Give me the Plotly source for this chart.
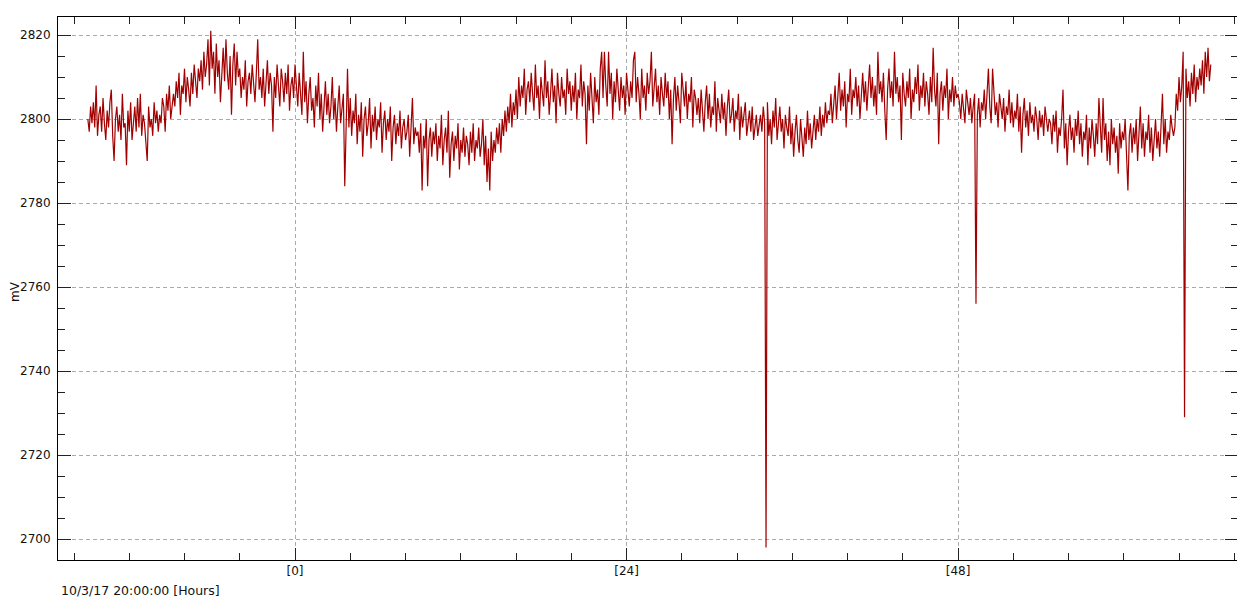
import plotly.graph_objects as go

# Time axis: hours relative to 10/3/17 20:00:00, regular sampling
t_start = -15.0
t_step = 0.1

mv = [
    # -15.0 .. -9.9
    2800, 2797, 2803, 2799, 2804, 2798, 2808, 2796, 2801, 2803,
    2797, 2805, 2799, 2795, 2802, 2798, 2804, 2807, 2796, 2790,
    2800, 2803, 2797, 2801, 2795, 2806, 2798, 2799, 2789, 2802,
    2797, 2804, 2795, 2800, 2803, 2797, 2805, 2798, 2806, 2796,
    2801, 2799, 2794, 2790, 2803, 2798, 2800, 2796, 2804, 2799,
    2802, 2797,
    # -9.8 .. -8.8
    2801, 2799, 2805, 2803, 2797, 2806, 2802, 2808, 2800, 2804, 2806,
    # -8.7 .. -7.0
    2803, 2809, 2805, 2811, 2801, 2808, 2806, 2812, 2804, 2810,
    2807, 2803, 2811, 2806, 2813, 2808, 2805, 2812,
    # -6.9 .. -4.1
    2809, 2814, 2807, 2816, 2810, 2813, 2819, 2808, 2821, 2812,
    2816, 2806, 2818, 2810, 2814, 2804, 2812, 2817, 2809, 2819,
    2811, 2807, 2815, 2801, 2813, 2818, 2808, 2816, 2810,
    # -4.0 .. 0.3
    2812, 2805, 2810, 2807, 2814, 2803, 2809, 2811, 2806, 2813,
    2808, 2804, 2811, 2819, 2807, 2810, 2805, 2812, 2803, 2809,
    2814, 2806, 2811, 2808, 2797, 2810, 2805, 2813, 2807, 2803,
    2812, 2809, 2804, 2811, 2806, 2813, 2802, 2808, 2810, 2805,
    2813, 2807, 2803, 2811,
    # 0.4 .. 3.5
    2807, 2801, 2816, 2804, 2809, 2799, 2806, 2810, 2802, 2805,
    2798, 2808, 2803, 2811, 2800, 2806, 2797, 2804, 2809, 2801,
    2806, 2799, 2803, 2810, 2800, 2805, 2797, 2803, 2808, 2799,
    2802, 2806,
    # 3.6 .. 8.8
    2784, 2803, 2812, 2798, 2805, 2796, 2802, 2799, 2806, 2794,
    2801, 2797, 2804, 2791, 2800, 2803, 2796, 2799, 2805, 2793,
    2801, 2797, 2803, 2795, 2800, 2798, 2804, 2792, 2799, 2802,
    2795, 2800, 2797, 2803, 2790, 2798, 2801, 2794, 2799, 2796,
    2802, 2793, 2798, 2800, 2795, 2797, 2801, 2791, 2799, 2805,
    2794, 2798, 2796,
    # 8.9 .. 14.6
    2797, 2792, 2799, 2783, 2796, 2793, 2800, 2784, 2795, 2798,
    2791, 2797, 2794, 2799, 2790, 2796, 2793, 2801, 2789, 2795,
    2798, 2792, 2802, 2786, 2794, 2797, 2790, 2796, 2793, 2799,
    2788, 2795, 2792, 2798, 2791, 2796, 2794, 2789, 2797, 2792,
    2799, 2790, 2795, 2793, 2798, 2791, 2794, 2800, 2789, 2796,
    2785, 2793, 2783, 2797, 2790, 2795, 2792, 2798,
    # 14.7 .. 16.1
    2794, 2799, 2792, 2800, 2796, 2802, 2797, 2803, 2799, 2806,
    2798, 2804, 2801, 2807, 2800,
    # 16.2 .. 29.1
    2810, 2803, 2808, 2805, 2812, 2801, 2807, 2809, 2804, 2811,
    2806, 2802, 2813, 2805, 2808, 2800, 2810, 2807, 2803, 2814,
    2805, 2809, 2801, 2806, 2812, 2804, 2808, 2799, 2811, 2806,
    2803, 2810, 2805, 2807, 2801, 2812, 2806, 2809, 2802, 2808,
    2804, 2811, 2800, 2807, 2805, 2813, 2803, 2809, 2806, 2794,
    2808, 2802, 2811, 2805, 2799, 2810, 2804, 2807, 2801, 2812,
    2816, 2805, 2816, 2808, 2803, 2816, 2806, 2811, 2800, 2809,
    2804, 2812, 2806, 2802, 2810, 2805, 2808, 2801, 2811, 2807,
    2803, 2809, 2805, 2814, 2816, 2804, 2810, 2806, 2800, 2812,
    2805, 2808, 2802, 2811, 2806, 2809, 2816, 2803, 2807, 2812,
    2804, 2808, 2801, 2810, 2806, 2803, 2811, 2805, 2809, 2800,
    2807, 2794, 2805, 2810, 2802, 2808, 2804, 2799, 2811, 2806,
    2803, 2809, 2800, 2806, 2804, 2810, 2798, 2807, 2805, 2801,
    # 29.2 .. 33.6
    2805, 2799, 2807, 2802, 2797, 2804, 2808, 2800, 2806, 2798,
    2803, 2801, 2809, 2797, 2805, 2802, 2799, 2806, 2800, 2804,
    2796, 2803, 2807, 2799, 2801, 2805, 2797, 2802, 2800, 2806,
    2795, 2803, 2798, 2801, 2804, 2796, 2800, 2802, 2797, 2803,
    2795, 2799, 2801, 2796, 2798,
    # 33.7 .. 38.6
    2801, 2797, 2803, 2799, 2698, 2804, 2796, 2800, 2794, 2802,
    2798, 2805, 2795, 2799, 2803, 2797, 2800, 2793, 2801, 2798,
    2796, 2803, 2794, 2799, 2791, 2797, 2801, 2795, 2792, 2800,
    2796, 2791, 2798, 2794, 2802, 2795, 2799, 2793, 2797, 2801,
    2795, 2800, 2797, 2803, 2796, 2801, 2798, 2804, 2799, 2802,
    # 38.7 .. 48.0
    2801, 2806, 2799, 2804, 2808, 2800, 2805, 2811, 2802, 2807,
    2803, 2809, 2798, 2806, 2804, 2812, 2801, 2807, 2805, 2810,
    2803, 2808, 2800, 2806, 2811, 2804, 2809, 2802, 2807, 2813,
    2805, 2810, 2803, 2808, 2801, 2816, 2806, 2809, 2804, 2811,
    2802, 2795, 2807, 2812, 2805, 2809, 2803, 2816, 2806, 2810,
    2804, 2808, 2795, 2811, 2806, 2803, 2809, 2805, 2812, 2800,
    2807, 2804, 2810, 2806, 2813, 2802, 2808, 2805, 2811, 2803,
    2809, 2806, 2801, 2810, 2804, 2817, 2807, 2803, 2811, 2794,
    2806, 2809, 2802, 2808, 2805, 2812, 2800, 2807, 2804, 2810,
    2803, 2808, 2805, 2806,
    # 48.1 .. 54.6
    2804, 2800, 2806, 2802, 2799, 2807, 2803, 2801, 2805, 2799,
    2803, 2806, 2756, 2801, 2805, 2798, 2804, 2802, 2807, 2800,
    2806, 2812, 2803, 2799, 2812, 2805, 2801, 2804, 2798, 2806,
    2802, 2800, 2805, 2797, 2803, 2801, 2807, 2799, 2804, 2798,
    2802, 2800, 2806, 2797, 2803, 2792, 2801, 2805, 2798, 2802,
    2796, 2804, 2799, 2801, 2797, 2803, 2800, 2795, 2802, 2798,
    2801, 2796, 2803, 2799, 2797, 2800,
    # 54.7 .. 63.6
    2799, 2794, 2801, 2797, 2802, 2792, 2798, 2796, 2800, 2807,
    2793, 2799, 2789, 2797, 2801, 2795, 2798, 2792, 2800, 2796,
    2802, 2794, 2799, 2791, 2797, 2795, 2801, 2789, 2798, 2793,
    2800, 2796, 2791, 2799, 2794, 2805, 2797, 2792, 2805, 2795,
    2799, 2790, 2797, 2789, 2800, 2794, 2798, 2792, 2796, 2787,
    2799, 2793, 2797, 2795, 2800, 2791, 2783, 2796, 2799, 2792,
    2798, 2794, 2800, 2790, 2796, 2803, 2793, 2799, 2791, 2797,
    2795, 2801, 2792, 2798, 2790, 2796, 2800, 2793, 2797, 2791,
    2799, 2806, 2794, 2800, 2792, 2797, 2795, 2801, 2798, 2796,
    # 63.7 .. 66.3
    2798, 2806, 2802, 2810, 2804, 2808, 2816, 2729, 2812, 2805,
    2809, 2803, 2811, 2806, 2813, 2804, 2810, 2807, 2812, 2808,
    2814, 2806, 2816, 2810, 2817, 2809, 2813,
]

hours = [round(t_start + i * t_step, 2) for i in range(len(mv))]

x_major = [0, 24, 48]
x_major_labels = ["[0]", "[24]", "[48]"]
y_major = [2700, 2720, 2740, 2760, 2780, 2800, 2820]
y_major_labels = [str(v) for v in y_major]

FONT = "DejaVu Sans"

fig = go.Figure(
    go.Scatter(
        x=hours, y=mv, mode="lines",
        line=dict(color="#a20000", width=1.2),
        hoverinfo="x+y",
    )
)

axis_common = dict(
    showline=True, linecolor="black", linewidth=1, mirror="allticks",
    ticks="inside", tickcolor="#222222", tickwidth=1,
    showgrid=True, gridcolor="#aaaaaa", gridwidth=1, griddash="4px,3px",
    zeroline=False,
    tickfont=dict(family=FONT, size=12, color="#111111"),
)

# page body has an 8px margin, so the figure is offset by 8px
fig.update_layout(
    width=1237, height=593,
    margin=dict(l=50, r=7, t=9, b=41, pad=0),
    plot_bgcolor="white", paper_bgcolor="white",
    showlegend=False,
    font=dict(family=FONT, size=12, color="#111111"),
    xaxis=dict(
        range=[-17.16, 68.27],
        tickmode="array", tickvals=x_major, ticktext=x_major_labels,
        ticklen=12,
        minor=dict(tick0=0, dtick=4, ticks="inside", ticklen=7,
                   tickcolor="#222222", tickwidth=1, showgrid=False),
        **axis_common,
    ),
    yaxis=dict(
        range=[2695.0, 2824.3],
        tickmode="array", tickvals=y_major, ticktext=y_major_labels,
        ticklen=13, ticklabelstandoff=4,
        minor=dict(tick0=2700, dtick=5, ticks="inside", ticklen=7,
                   tickcolor="#222222", tickwidth=1, showgrid=False),
        **axis_common,
    ),
    annotations=[
        dict(text="10/3/17 20:00:00 [Hours]", xref="paper", yref="paper",
             x=0, y=0, xanchor="left", yanchor="middle", xshift=1, yshift=-30,
             showarrow=False, font=dict(family=FONT, size=12.5, color="#111111")),
        dict(text="mV", xref="paper", yref="paper",
             x=(15 - 58) / 1180, y=(560 - 292) / 543, xanchor="center",
             yanchor="middle", textangle=-90, showarrow=False,
             font=dict(family=FONT, size=12, color="#111111")),
    ],
)

fig.write_html("out.html")
